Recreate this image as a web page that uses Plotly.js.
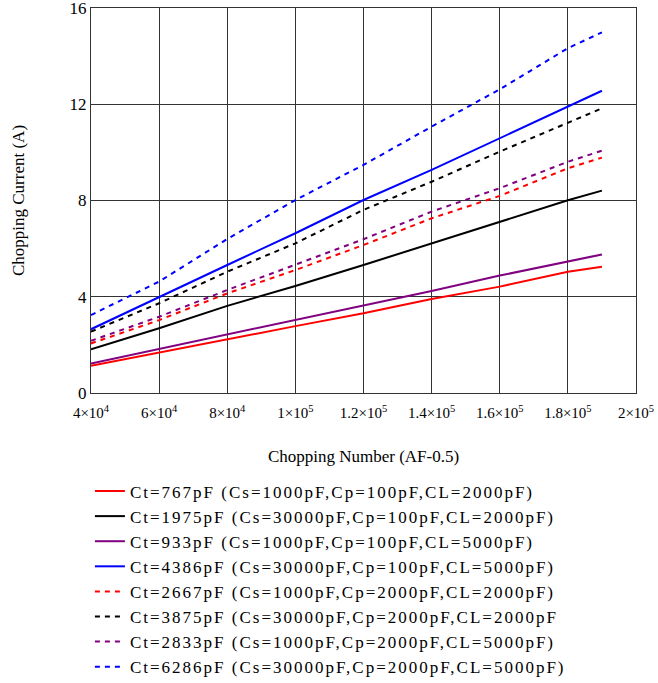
<!DOCTYPE html>
<html>
<head>
<meta charset="utf-8">
<script src="https://cdn.plot.ly/plotly-3.0.1.min.js"></script>
<style>
html,body{margin:0;padding:0;background:#fff;}
#chart{width:658px;height:683px;}
#chart .legendtext{letter-spacing:2px;}
#chart .legend .scrollbox{clip-path:none !important;}
</style>
</head>
<body>
<div id="chart"></div>
<script>
// Chopping number (x)
const chopNumber = [40000, 60000, 80000, 100000, 120000, 140000, 160000, 180000, 190000];

// Chopping current (A) for each circuit configuration
const ct767  = [1.13, 1.69, 2.23, 2.78, 3.31, 3.91, 4.42, 5.04, 5.25];
const ct1975 = [1.82, 2.69, 3.62, 4.45, 5.32, 6.22, 7.12, 8.01, 8.41];
const ct933  = [1.23, 1.83, 2.44, 3.03, 3.66, 4.24, 4.88, 5.46, 5.76];
const ct4386 = [2.65, 4.00, 5.32, 6.64, 8.02, 9.27, 10.59, 11.93, 12.56];
const ct2667 = [2.06, 3.03, 4.14, 5.11, 6.15, 7.26, 8.19, 9.34, 9.78];
const ct3875 = [2.55, 3.73, 5.04, 6.22, 7.61, 8.78, 10.03, 11.23, 11.83];
const ct2833 = [2.17, 3.17, 4.28, 5.32, 6.39, 7.54, 8.51, 9.61, 10.07];
const ct6286 = [3.24, 4.63, 6.40, 8.02, 9.48, 11.07, 12.62, 14.33, 14.99];

const seriesNames = [
  "Ct=767pF (Cs=1000pF,Cp=100pF,CL=2000pF)",
  "Ct=1975pF (Cs=30000pF,Cp=100pF,CL=2000pF)",
  "Ct=933pF (Cs=1000pF,Cp=100pF,CL=5000pF)",
  "Ct=4386pF (Cs=30000pF,Cp=100pF,CL=5000pF)",
  "Ct=2667pF (Cs=1000pF,Cp=2000pF,CL=2000pF)",
  "Ct=3875pF (Cs=30000pF,Cp=2000pF,CL=2000pF",
  "Ct=2833pF (Cs=1000pF,Cp=2000pF,CL=5000pF)",
  "Ct=6286pF (Cs=30000pF,Cp=2000pF,CL=5000pF)"
];
const seriesValues = [ct767, ct1975, ct933, ct4386, ct2667, ct3875, ct2833, ct6286];
const seriesColors = ["#ff0000", "#000000", "#800080", "#0000ff", "#ff0000", "#000000", "#800080", "#0000ff"];
const seriesDash = ["solid", "solid", "solid", "solid", "5px,5px", "5px,5px", "5px,5px", "5px,5px"];

const xTickVals = [40000, 60000, 80000, 100000, 120000, 140000, 160000, 180000, 200000];
const xTickText = ["4×10<sup>4</sup>", "6×10<sup>4</sup>", "8×10<sup>4</sup>", "1×10<sup>5</sup>", "1.2×10<sup>5</sup>", "1.4×10<sup>5</sup>", "1.6×10<sup>5</sup>", "1.8×10<sup>5</sup>", "2×10<sup>5</sup>"];
const yTickVals = [0, 4, 8, 12, 16];

const serif = "Liberation Serif, Times New Roman, serif";

const traces = seriesNames.map((name, i) => ({
  x: chopNumber,
  y: seriesValues[i],
  name: name,
  type: "scatter",
  mode: "lines",
  legendgroup: "g" + i,
  line: {color: seriesColors[i], width: 2, dash: seriesDash[i]}
}));

const layout = {
  width: 658,
  height: 683,
  margin: {l: 91, r: 22, t: 8, b: 290, autoexpand: false},
  paper_bgcolor: "#ffffff",
  plot_bgcolor: "#ffffff",
  font: {family: serif, color: "#000", size: 14},
  showlegend: true,
  legend: {
    xref: "paper", yref: "paper",
    x: -0.002, y: -0.209, xanchor: "left", yanchor: "top",
    font: {family: serif, size: 17, color: "#000"},
    tracegroupgap: 0,
    traceorder: "grouped",
    bgcolor: "rgba(0,0,0,0)",
    borderwidth: 0
  },
  xaxis: {
    range: [40000, 200000],
    tickmode: "array",
    tickvals: xTickVals,
    ticktext: xTickText,
    tickangle: 0,
    showgrid: true,
    gridcolor: "#333",
    gridwidth: 1,
    showline: true,
    linecolor: "#333",
    linewidth: 1,
    mirror: true,
    zeroline: false,
    ticks: "",
    ticklabelstandoff: 6,
    ticklabeloverflow: "allow",
    automargin: true,
    tickfont: {family: serif, size: 15},
    title: {text: "Chopping Number (AF-0.5)", font: {family: serif, size: 17}, standoff: 30}
  },
  yaxis: {
    range: [0, 16],
    tickmode: "array",
    tickvals: yTickVals,
    showgrid: true,
    gridcolor: "#333",
    gridwidth: 1,
    showline: true,
    linecolor: "#333",
    linewidth: 1,
    mirror: true,
    zeroline: false,
    ticks: "",
    ticklabeloverflow: "allow",
    automargin: true,
    tickfont: {family: serif, size: 17},
    title: {text: "Chopping Current (A)", font: {family: serif, size: 17}, standoff: 40}
  }
};

Plotly.newPlot("chart", traces, layout, {displayModeBar: false, staticPlot: true});
</script>
</body>
</html>
